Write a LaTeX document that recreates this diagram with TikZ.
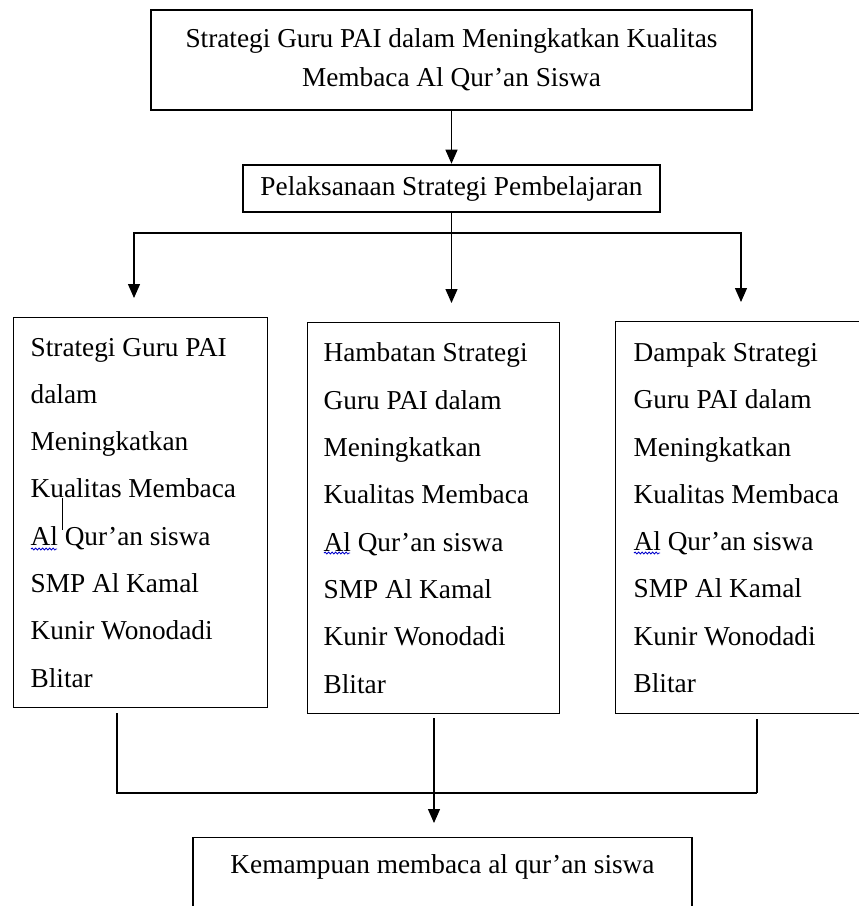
\documentclass[tikz,border=0pt]{standalone}
\usepackage{fontspec}
\setmainfont{Liberation Serif}
\usetikzlibrary{arrows.meta,decorations.pathmorphing}
\newcommand{\colfont}{\fontsize{27.3}{47.3}\selectfont}
\newcommand{\coltext}[1]{\parbox[c]{220pt}{\colfont\raggedright #1}}
\begin{document}
\begin{tikzpicture}[x=1pt,y=-1pt,
  thickbox/.style={draw, line width=2.6pt, inner sep=0pt, align=center},
  colbox/.style={draw, line width=1.3pt, inner ysep=0pt, anchor=north west},
  conn/.style={line width=1.3pt},
  arr/.style={conn, -{Triangle[width=12pt,length=14pt]}},
  spell/.style={blue!80!black, line width=0.8pt, decorate, decoration={snake, amplitude=1pt, segment length=3.5pt}}
]
\useasboundingbox (0,0) rectangle (859,906);
\clip (0,0) rectangle (859,906);
\fill[white] (0,0) rectangle (859,906);

\node[thickbox, minimum width=601pt, minimum height=100pt, font=\fontsize{27.3}{39}\selectfont] (top) at (451.5,60) {Strategi Guru PAI dalam Meningkatkan Kualitas\\Membaca Al Qur’an Siswa};

\node[thickbox, minimum width=417pt, minimum height=47pt, font=\fontsize{27.3}{33}\selectfont] (pel) at (451.5,188.5) {Pelaksanaan Strategi Pembelajaran};

\node[colbox, inner xsep=17pt, minimum height=390pt] (b1) at (13,317) {\coltext{Strategi Guru PAI\\dalam\\Meningkatkan\\Kualitas Membaca\\Al Qur’an siswa\\SMP Al Kamal\\Kunir Wonodadi\\Blitar}};
\node[colbox, inner xsep=16pt, minimum height=391pt] (b2) at (307,322) {\coltext{Hambatan Strategi\\Guru PAI dalam\\Meningkatkan\\Kualitas Membaca\\Al Qur’an siswa\\SMP Al Kamal\\Kunir Wonodadi\\Blitar}};
\node[colbox, inner xsep=18pt, minimum height=392pt] (b3) at (615,321) {\coltext{Dampak Strategi\\Guru PAI dalam\\Meningkatkan\\Kualitas Membaca\\Al Qur’an siswa\\SMP Al Kamal\\Kunir Wonodadi\\Blitar}};

\node[draw, line width=1.3pt, anchor=north, minimum width=499pt, inner xsep=0pt, inner ysep=18pt, text height=18pt, text depth=70pt, font=\fontsize{27.3}{33}\selectfont] (kem) at (442.5,837) {Kemampuan membaca al qur’an siswa};

% upper connectors
\draw[arr] (top.south) -- (pel.north);
\coordinate (jM) at (451.5,233);
\coordinate (jL) at (134,233);
\coordinate (jR) at (741,233);
\draw[arr, shorten >=19pt] (pel.south) -- (pel.south |- b2.north);
\draw[arr, shorten >=19pt] (jM) -| (jL |- b1.north);
\draw[arr, shorten >=19pt] (jM) -| (jR |- b3.north);

% lower connectors
\coordinate (sL) at (117,793);
\coordinate (sR) at (757,793);
\coordinate (sM) at (434,793);
\draw[conn, shorten <=5pt] (b1.south -| sL) -- (sL) -- (sR);
\draw[conn] (sR) -- ([yshift=-5pt]b3.south -| sR);
\draw[arr, shorten <=4pt, shorten >=14pt] (b2.south -| sM) -- (kem.north -| sM);

% editor marks
\draw[spell] (31,549) -- (57,549);
\draw[spell] (324,553) -- (350,553);
\draw[spell] (634,553) -- (660,553);
\draw[line width=0.7pt] (62,498) -- (62,530);
\end{tikzpicture}
\end{document}
